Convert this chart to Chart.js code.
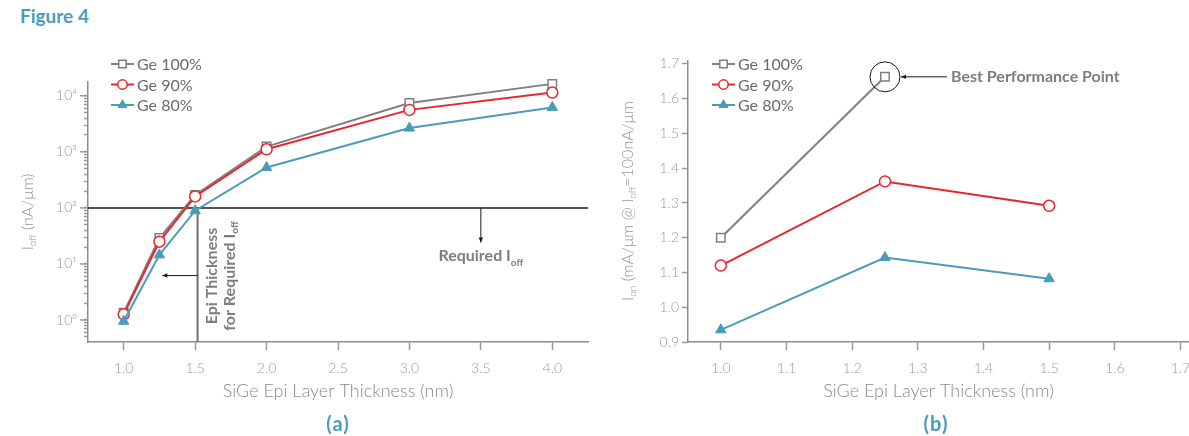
<!DOCTYPE html>
<html>
<head>
<meta charset="utf-8">
<script src="https://cdn.jsdelivr.net/npm/chart.js@4.4.1/dist/chart.umd.min.js"></script>
<style>
  html, body { margin: 0; padding: 0; background: #fff; width: 1189px; height: 436px; overflow: hidden; }
  #fig { position: absolute; left: 20px; top: 5px; font: bold 19px Lato, sans-serif; line-height: 1.2; color: #4b9cbc; }
  .panel { position: absolute; top: 0; }
  .cap { position: absolute; top: 411px; font: bold 20px Lato, sans-serif; letter-spacing: 1px; line-height: 1.2; color: #4b9cbc; transform: translateX(-50%); }
</style>
</head>
<body>
<div id="fig">Figure 4</div>
<canvas id="chartA" class="panel" style="left:0px" width="600" height="436"></canvas>
<canvas id="chartB" class="panel" style="left:600px" width="620" height="436"></canvas>
<div class="cap" style="left:338px">(a)</div>
<div class="cap" style="left:936px">(b)</div>
<script>
// ---- data ----
const seriesNames = ['Ge 100%', 'Ge 90%', 'Ge 80%'];

// (a) Ioff vs SiGe epi thickness (log scale, nA/um)
const thicknessA = [1.0, 1.25, 1.5, 2.0, 3.0, 4.0];
const ioffGe100 = [1.35, 29, 170, 1240, 7400, 16300];
const ioffGe90 = [1.26, 25, 160, 1110, 5600, 11400];
const ioffGe80 = [0.95, 14.5, 89, 525, 2650, 6200];
const xTicksA = [1.0, 1.5, 2.0, 2.5, 3.0, 3.5, 4.0];
const yMajorA = [1, 10, 100, 1000, 10000];
const requiredIoff = 100;
const epiThickness = 1.517;

// (b) Ion at Ioff = 100nA/um vs thickness
const thicknessB = [1.0, 1.25, 1.5];
const ionGe100 = [1.2, 1.663, null];
const ionGe90 = [1.12, 1.362, 1.292];
const ionGe80 = [0.935, 1.143, 1.082];
const xTicksB = [1.0, 1.1, 1.2, 1.3, 1.4, 1.5, 1.6, 1.7];
const yTicksB = [0.9, 1.0, 1.1, 1.2, 1.3, 1.4, 1.5, 1.6, 1.7];

// ---- styles ----
const colors = ['#808080', '#e8262c', '#4a9cb8'];
const pointStyles = ['rect', 'circle', 'triangle'];
const pointRadii = [6, 5.5, 6];
const pointFills = ['#ffffff', '#ffffff', '#4a9cb8'];
const FONT = 'Lato, "Open Sans", sans-serif';
const tickGray = '#9a9a9a';
const axisGray = '#8c8c8c';
const annoGray = '#7d7d7d';

function makeDataset(i, xs, ys) {
    return {
        label: seriesNames[i],
        data: xs.map((x, k) => ({ x: x, y: ys[k] })),
        borderColor: colors[i],
        borderWidth: 2,
        backgroundColor: pointFills[i],
        pointStyle: pointStyles[i],
        pointRadius: pointRadii[i],
        pointBackgroundColor: pointFills[i],
        pointBorderColor: colors[i],
        pointBorderWidth: i === 2 ? 1 : 1.5,
        tension: 0,
        clip: false,
        order: 3 - i
    };
}

// text with subscripts: parts = [[text, isSub], ...]
function richText(ctx, parts, x, y, size, weight, color) {
    const subSize = Math.round(size * 0.62);
    let total = 0;
    parts.forEach(p => {
        ctx.font = `${weight} ${p[1] ? subSize : size}px ${FONT}`;
        total += ctx.measureText(p[0]).width;
    });
    let cx = x - total / 2;
    ctx.fillStyle = color;
    ctx.textAlign = 'left';
    parts.forEach(p => {
        ctx.font = `${weight} ${p[1] ? subSize : size}px ${FONT}`;
        ctx.fillText(p[0], cx, y + (p[1] ? size * 0.3 : 0));
        cx += ctx.measureText(p[0]).width;
    });
}

function rotatedText(ctx, parts, x, y, size, weight, color) {
    ctx.save();
    ctx.translate(x, y);
    ctx.rotate(-Math.PI / 2);
    ctx.textBaseline = 'middle';
    richText(ctx, parts, 0, 0, size, weight, color);
    ctx.restore();
}

function arrow(ctx, x1, y1, x2, y2) {
    // line from (x1,y1) to (x2,y2), head at (x2,y2)
    const a = Math.atan2(y2 - y1, x2 - x1);
    ctx.strokeStyle = '#1a1a1a';
    ctx.fillStyle = '#1a1a1a';
    ctx.lineWidth = 1;
    ctx.beginPath();
    ctx.moveTo(x1, y1);
    ctx.lineTo(x2, y2);
    ctx.stroke();
    ctx.beginPath();
    ctx.moveTo(x2, y2);
    ctx.lineTo(x2 - 5 * Math.cos(a) + 2.2 * Math.sin(a), y2 - 5 * Math.sin(a) - 2.2 * Math.cos(a));
    ctx.lineTo(x2 - 5 * Math.cos(a) - 2.2 * Math.sin(a), y2 - 5 * Math.sin(a) + 2.2 * Math.cos(a));
    ctx.closePath();
    ctx.fill();
}

function drawLegend(chart, x0, y0) {
    const ctx = chart.ctx;
    ctx.save();
    seriesNames.forEach((name, i) => {
        const y = y0 + i * 20.5;
        ctx.strokeStyle = colors[i];
        ctx.lineWidth = 2;
        ctx.beginPath();
        ctx.moveTo(x0, y);
        ctx.lineTo(x0 + 23, y);
        ctx.stroke();
        ctx.fillStyle = pointFills[i];
        ctx.lineWidth = i === 2 ? 1 : 1.5;
        Chart.helpers.drawPoint(ctx, { pointStyle: pointStyles[i], radius: pointRadii[i] - 0.8, rotation: 0, borderWidth: ctx.lineWidth }, x0 + 11.5, y);
        ctx.fillStyle = '#6a6a6a';
        ctx.font = `16px ${FONT}`;
        ctx.textBaseline = 'middle';
        ctx.textAlign = 'left';
        ctx.fillText(name, x0 + 26, y + 1);
    });
    ctx.restore();
}

const supDigits = ['\u2070', '\u00b9', '\u00b2', '\u00b3', '\u2074'];

function baseScale(min, max, ticks, fmt, tickLen, pad) {
    return {
        type: 'linear', min: min, max: max,
        afterBuildTicks: s => { s.ticks = ticks.map(v => ({ value: v })); },
        ticks: { autoSkip: false, maxRotation: 0, padding: pad, color: tickGray, font: { family: FONT, size: 14, weight: 300 }, callback: fmt },
        grid: { drawOnChartArea: false, tickLength: tickLen, tickColor: '#999', tickWidth: 1.5 },
        border: { color: axisGray, width: 1.5 }
    };
}

function xTitle() {
    return { display: true, text: 'SiGe Epi Layer Thickness (nm)', color: '#8a8a8a', font: { family: FONT, size: 18, weight: 300 }, padding: { top: 4, bottom: 0 } };
}

// ---- panel (a) ----
const annotA = {
    id: 'annotA',
    beforeDatasetsDraw(chart) {
        const ctx = chart.ctx, xs = chart.scales.x, ys = chart.scales.y, area = chart.chartArea;
        const yReq = ys.getPixelForValue(requiredIoff);
        const xEpi = xs.getPixelForValue(epiThickness);
        ctx.save();
        ctx.strokeStyle = '#1a1a1a';
        ctx.lineWidth = 1.5;
        ctx.beginPath();
        ctx.moveTo(area.left, yReq);
        ctx.lineTo(area.right, yReq);
        ctx.stroke();
        ctx.strokeStyle = '#6d6d6d';
        ctx.lineWidth = 2;
        ctx.beginPath();
        ctx.moveTo(xEpi, yReq);
        ctx.lineTo(xEpi, area.bottom);
        ctx.stroke();
        arrow(ctx, xEpi, ys.getPixelForValue(6.2), xs.getPixelForValue(1.27), ys.getPixelForValue(6.2));
        arrow(ctx, xs.getPixelForValue(3.5), yReq, xs.getPixelForValue(3.5), ys.getPixelForValue(24));
        ctx.restore();
    },
    afterDraw(chart) {
        const ctx = chart.ctx, xs = chart.scales.x;
        const xEpi = xs.getPixelForValue(epiThickness);
        ctx.save();
        ctx.textBaseline = 'alphabetic';
        richText(ctx, [['Required I', 0], ['off', 1]], xs.getPixelForValue(3.5), 261, 16, 'bold', annoGray);
        rotatedText(ctx, [['Epi Thickness', 0]], xEpi + 14, 276, 16, 'bold', annoGray);
        rotatedText(ctx, [['for Required I', 0], ['off', 1]], xEpi + 32, 276, 16, 'bold', annoGray);
        rotatedText(ctx, [['I', 0], ['off', 1], [' (nA/\u03bcm)', 0]], 28, 212, 16, 300, '#959595');
        ctx.restore();
        drawLegend(chart, 111, 64);
    }
};

const logTicksA = [];
for (let k = -1; k <= 4; k++) {
    for (let m = 1; m <= 9; m++) {
        const v = Number((m * Math.pow(10, k)).toPrecision(3));
        if (v >= 0.405 && v <= 17600) logTicksA.push(v);
    }
}

const majorTicks = {
    id: 'majorTicks',
    afterDraw(chart) {
        const ctx = chart.ctx, ys = chart.scales.y, left = chart.chartArea.left;
        ctx.save();
        ctx.strokeStyle = '#999';
        ctx.lineWidth = 1.5;
        yMajorA.forEach(v => {
            const y = ys.getPixelForValue(v);
            ctx.beginPath();
            ctx.moveTo(left - 8, y);
            ctx.lineTo(left, y);
            ctx.stroke();
        });
        ctx.restore();
    }
};

const xScaleA = baseScale(0.75, 4.25, xTicksA, v => v.toFixed(1), 8, 10);
xScaleA.afterFit = s => { s.height = 60; };
xScaleA.title = xTitle();

const yScaleA = baseScale(0.405, 17600, logTicksA, v => {
    const e = Math.log10(v);
    return Math.abs(e - Math.round(e)) < 1e-6 ? '10' + supDigits[Math.round(e)] : '';
}, 4, 7);
yScaleA.type = 'logarithmic';
yScaleA.afterFit = s => { s.width = 88; };

new Chart(document.getElementById('chartA'), {
    type: 'line',
    data: { datasets: [
        makeDataset(0, thicknessA, ioffGe100),
        makeDataset(1, thicknessA, ioffGe90),
        makeDataset(2, thicknessA, ioffGe80)
    ] },
    options: {
        responsive: false, animation: false, devicePixelRatio: 1,
        layout: { padding: { top: 82, right: 12, bottom: 34, left: 0 } },
        plugins: { legend: { display: false }, tooltip: { enabled: false } },
        scales: { x: xScaleA, y: yScaleA }
    },
    plugins: [annotA, majorTicks]
});

// ---- panel (b) ----
const annotB = {
    id: 'annotB',
    afterDraw(chart) {
        const ctx = chart.ctx;
        const best = chart.getDatasetMeta(0).data[1];
        ctx.save();
        ctx.strokeStyle = '#1a1a1a';
        ctx.lineWidth = 1;
        ctx.beginPath();
        ctx.arc(best.x, best.y, 15, 0, Math.PI * 2);
        ctx.stroke();
        arrow(ctx, best.x + 62, best.y, best.x + 16, best.y);
        ctx.textBaseline = 'middle';
        ctx.font = `bold 16px ${FONT}`;
        ctx.fillStyle = annoGray;
        ctx.textAlign = 'left';
        ctx.fillText('Best Performance Point', best.x + 66, best.y);
        rotatedText(ctx, [['I', 0], ['on', 1], [' (mA/\u03bcm @ I', 0], ['off', 1], ['=100nA/\u03bcm', 0]], 28, 201, 16, 300, '#959595');
        ctx.restore();
        drawLegend(chart, 112, 64);
    }
};

const xScaleB = baseScale(0.95, 1.713, xTicksB, v => v.toFixed(1), 8, 10);
xScaleB.afterFit = s => { s.height = 60; };
xScaleB.title = xTitle();

const yScaleB = baseScale(0.9, 1.71, yTicksB, v => v.toFixed(1), 6, 3);
yScaleB.afterFit = s => { s.width = 88; };

new Chart(document.getElementById('chartB'), {
    type: 'line',
    data: { datasets: [
        makeDataset(0, thicknessB, ionGe100),
        makeDataset(1, thicknessB, ionGe90),
        makeDataset(2, thicknessB, ionGe80)
    ] },
    options: {
        responsive: false, animation: false, devicePixelRatio: 1,
        layout: { padding: { top: 60.5, right: 31, bottom: 34, left: 0 } },
        plugins: { legend: { display: false }, tooltip: { enabled: false } },
        scales: { x: xScaleB, y: yScaleB }
    },
    plugins: [annotB]
});
</script>
</body>
</html>
